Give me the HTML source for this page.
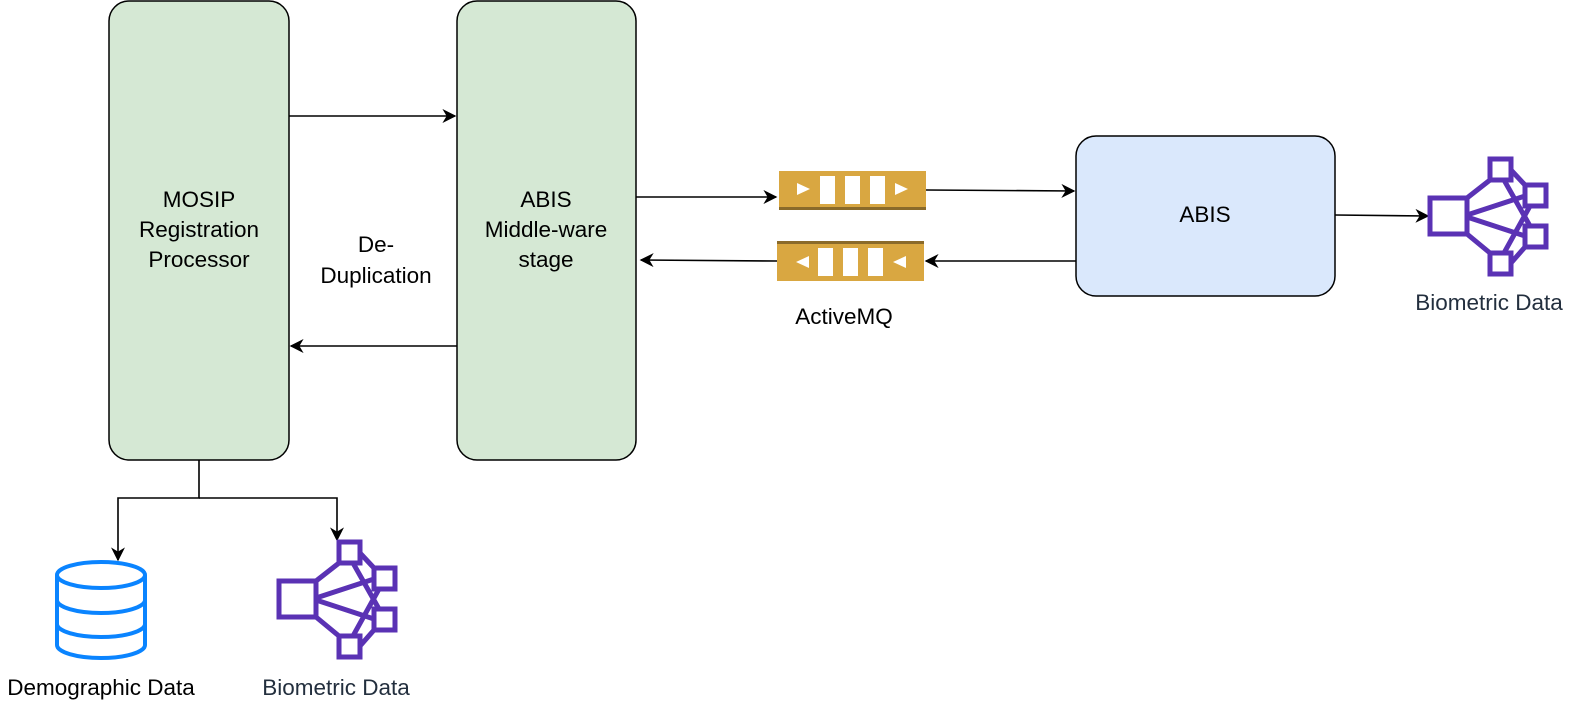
<!DOCTYPE html>
<html><head><style>
html,body{margin:0;padding:0;background:#fff;}
svg{display:block;font-family:"Liberation Sans",Arial,sans-serif;}
</style></head><body>
<svg width="1570" height="704" viewBox="0 0 1570 704" xmlns="http://www.w3.org/2000/svg">
<defs>
<marker id="a" viewBox="0 0 10 10" refX="9" refY="5" markerWidth="14" markerHeight="14" markerUnits="userSpaceOnUse" orient="auto"><path d="M0,0 L10,5 L0,10 L3,5 z" fill="#000"/></marker>
<g id="bio" fill="none" stroke="#5a32b4" stroke-width="5">
<rect x="2" y="41" width="37" height="36"/>
<rect x="62" y="2" width="21" height="21"/>
<rect x="97" y="28" width="21" height="21"/>
<rect x="97" y="69" width="21" height="21"/>
<rect x="62" y="96" width="21" height="21"/>
<path d="M39,41 L62,23 M39,58 L97,39 M39,60 L97,79 M39,77 L62,96 M83,13 L97,28 M83,106 L97,90 M76,23 L102,69 M76,96 L102,49"/>
</g>
</defs>
<rect x="109" y="1" width="180" height="459" rx="20" fill="#d5e8d4" stroke="#000" stroke-width="1.5"/>
<rect x="457" y="1" width="179" height="459" rx="20" fill="#d5e8d4" stroke="#000" stroke-width="1.5"/>
<rect x="1076" y="136" width="259" height="160" rx="20" fill="#dae8fc" stroke="#000" stroke-width="1.5"/>
<g font-size="22.5" text-anchor="middle" fill="#000">
<text x="199" y="207">MOSIP</text><text x="199" y="237">Registration</text><text x="199" y="267">Processor</text>
<text x="546" y="207">ABIS</text><text x="546" y="237">Middle-ware</text><text x="546" y="267">stage</text>
<text x="376" y="252">De-</text><text x="376" y="283">Duplication</text>
<text x="1205" y="222">ABIS</text>
<text x="844" y="324">ActiveMQ</text>
<text x="101" y="695">Demographic Data</text>
<text x="336" y="695" fill="#232f3e">Biometric Data</text>
<text x="1489" y="310" fill="#232f3e">Biometric Data</text>
</g>
<g stroke="#000" stroke-width="1.6" fill="none">
<path d="M289,116 H455" marker-end="url(#a)"/>
<path d="M457,346 H291" marker-end="url(#a)"/>
<path d="M636,197 H776" marker-end="url(#a)"/>
<path d="M926,190 L1074,191" marker-end="url(#a)"/>
<path d="M1076,261 H926" marker-end="url(#a)"/>
<path d="M777,261 L641,260" marker-end="url(#a)"/>
<path d="M1335,215 L1428,216" marker-end="url(#a)"/>
<path d="M199,460 V498 H118 V560" marker-end="url(#a)"/>
<path d="M199,498 H337 V540" marker-end="url(#a)"/>
</g>
<rect x="779" y="171" width="147" height="39" fill="#d9a741"/>
<rect x="779" y="207" width="147" height="3" fill="#8a6a2a"/>
<g fill="#fff"><path d="M797,183 L810,189 L797,195 z"/><rect x="820" y="176" width="15" height="28"/><rect x="845" y="176" width="15" height="28"/><rect x="870" y="176" width="15" height="28"/><path d="M895,183 L908,189 L895,195 z"/></g>
<rect x="777" y="241" width="147" height="40" fill="#d9a741"/>
<rect x="777" y="241" width="147" height="3" fill="#8a6a2a"/>
<g fill="#fff"><path d="M809,256 L796,262 L809,268 z"/><rect x="818" y="248" width="15" height="28"/><rect x="843" y="248" width="15" height="28"/><rect x="868" y="248" width="15" height="28"/><path d="M906,256 L893,262 L906,268 z"/></g>
<g fill="none" stroke="#0a84ff" stroke-width="4">
<ellipse cx="101" cy="575" rx="44" ry="13"/>
<path d="M57,575 V645 A44,13 0 0 0 145,645 V575"/>
<path d="M57,600 A44,13 0 0 0 145,600"/>
<path d="M57,624 A44,13 0 0 0 145,624"/>
</g>
<use href="#bio" x="277" y="540"/>
<use href="#bio" x="1428" y="157"/>
</svg>
</body></html>
